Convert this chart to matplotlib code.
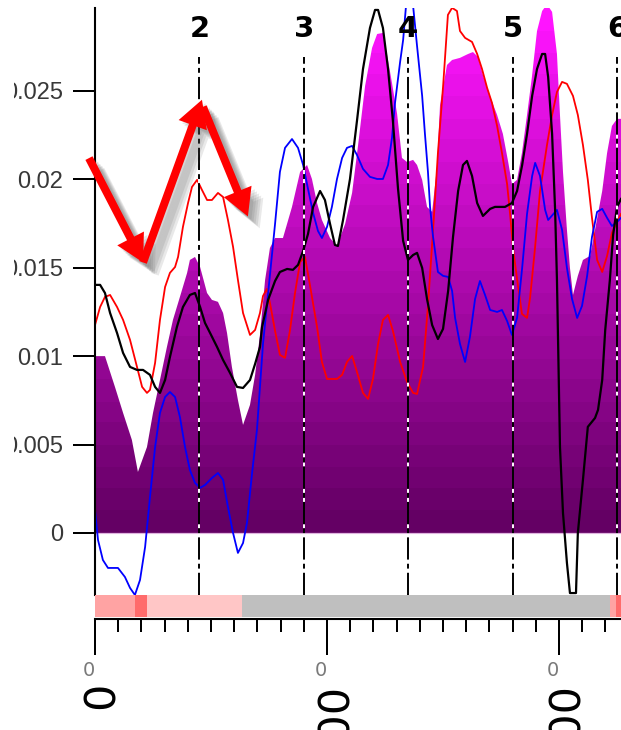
import matplotlib
matplotlib.use("Agg")
import matplotlib.pyplot as plt
import numpy as np
from matplotlib.colors import LinearSegmentedColormap
from matplotlib.patches import FancyArrow
from matplotlib.transforms import Bbox, TransformedBbox, IdentityTransform
import matplotlib.patheffects as pe

plt.rcParams['lines.scale_dashes'] = False

# ---------------- data ----------------
mag_x = [0, 4.3, 8.6, 12.1, 15.9, 18.5, 22.4, 25.0, 28.0, 31.0, 33.6, 36.6, 39.7, 40.9, 43.1, 45.3, 48.3, 50.4, 53.0, 55.2,
         56.9, 59.0, 61.6, 63.8, 66.8, 69.0, 71.1, 73.3, 75.4, 77.6, 81.0, 84.9, 88.4, 91.4, 93.5, 95.7, 97.8, 101.3, 104.3, 107.8,
         110.8, 113.4, 116.4, 119.4, 121.6, 124.1, 125.9, 128.0, 130.2, 132.3, 134.5, 137.1, 138.8, 141.0, 143.1, 145.3, 147.4, 148.7, 151.7, 153.9,
         157.3, 160.8, 162.9, 165.1, 167.2, 170.2, 173.3, 175.8, 178.0, 179.7, 181.9, 184.0, 186.2, 188.3, 190.5, 192.7, 194.8, 197.0, 199.1, 200.4,
         201.7, 203.4, 204.7, 206.0, 208.1, 210.3, 213.4, 215.5, 218.6, 220.7, 222.8, 225.0, 226.7]
mag_y = [0.0100, 0.0100, 0.00826, 0.00679, 0.00526, 0.00345, 0.00486, 0.00679, 0.00865, 0.01052, 0.01205, 0.01335, 0.01471, 0.01544, 0.01561, 0.01504, 0.01357, 0.01318, 0.01307, 0.01244,
         0.01131, 0.00939, 0.00752, 0.00611, 0.00724, 0.00894, 0.0112, 0.0143, 0.01612, 0.01668, 0.01668, 0.01844, 0.02042, 0.02081, 0.02002, 0.01866, 0.0177, 0.01668, 0.01623, 0.01748,
         0.01923, 0.02195, 0.02528, 0.02743, 0.02822, 0.02828, 0.02704, 0.02545, 0.0237, 0.02121, 0.02098, 0.0211, 0.02081, 0.01997, 0.01844, 0.01816, 0.0207, 0.02421, 0.02647, 0.02675,
         0.02687, 0.02709, 0.0272, 0.02692, 0.0259, 0.02472, 0.02364, 0.02257, 0.02104, 0.01974, 0.01997, 0.02149, 0.02364, 0.02579, 0.02839, 0.02952, 0.0299, 0.02947, 0.02709, 0.02364,
         0.02042, 0.01714, 0.01499, 0.01346, 0.01454, 0.01544, 0.01567, 0.01714, 0.01934, 0.02149, 0.02302, 0.02342, 0.02342]

red_x = [0, 2.2, 4.3, 6.5, 9.5, 12.1, 15.1, 18.1, 20.3, 22.4, 23.7, 25.9, 28.0, 30.2, 32.3, 34.5, 35.8, 37.9, 40.1, 41.8,
         44.0, 46.1, 48.3, 50.4, 53.0, 55.2, 57.3, 59.5, 61.6, 63.8, 66.8, 69.0, 71.1, 72.4, 74.1, 75.4, 77.6, 79.7, 81.9, 84.0,
         86.2, 88.4, 90.5, 92.7, 95.7, 97.8, 100.0, 104.3, 106.5, 108.6, 110.8, 112.9, 115.5, 117.7, 119.8, 122.0, 124.1, 126.3, 128.4, 131.5,
         134.5, 137.1, 138.8, 141.4, 143.5, 145.7, 147.8, 150.1, 152.1, 153.9, 156.0, 157.3, 159.5, 162.5, 164.7, 166.8, 169.0, 171.1, 173.3, 175.4,
         177.6, 178.9, 180.2, 181.9, 184.0, 186.2, 187.5, 189.6, 191.8, 194.8, 197.0, 199.1, 201.3, 203.4, 206.0, 208.1, 210.3, 212.4, 214.2, 216.4,
         218.6, 220.7, 222.8, 225.0, 226.7]
red_y = [0.01176, 0.01278, 0.01335, 0.01346, 0.01278, 0.01205, 0.01092, 0.00939, 0.00826, 0.00792, 0.00809, 0.00962, 0.01205, 0.01391, 0.01471, 0.01504, 0.01561, 0.01731, 0.01866, 0.01957,
         0.01997, 0.0194, 0.01883, 0.01883, 0.01923, 0.019, 0.0177, 0.01618, 0.01431, 0.01244, 0.0112, 0.01148, 0.01244, 0.0134, 0.0138, 0.01301, 0.01143, 0.01007, 0.0099, 0.01143,
         0.01357, 0.01533, 0.01561, 0.01397, 0.01165, 0.00967, 0.00871, 0.00871, 0.00894, 0.00967, 0.01001, 0.00911, 0.00792, 0.00758, 0.00871, 0.01069, 0.01205, 0.01233, 0.01143, 0.00967,
         0.00854, 0.00792, 0.00786, 0.00939, 0.01284, 0.01714, 0.02149, 0.0254, 0.0293, 0.0297, 0.02952, 0.02839, 0.028, 0.02777, 0.02709, 0.02624, 0.02517, 0.02432, 0.02302, 0.02149,
         0.01974, 0.01804, 0.01606, 0.01437, 0.01239, 0.01216, 0.01329, 0.01606, 0.01934, 0.02194, 0.02364, 0.02494, 0.02551, 0.0254, 0.02472, 0.02364, 0.02194, 0.01997, 0.01782, 0.01544,
         0.01476, 0.01567, 0.01697, 0.01759, 0.01804]

blue_x = [0, 1.3, 3.4, 5.6, 9.9, 12.9, 15.1, 17.2, 19.4, 21.6, 23.7, 25.9, 28.0, 30.2, 32.3, 34.5, 36.6, 38.8, 40.9, 43.1,
          45.3, 47.4, 50.4, 53.0, 55.2, 57.3, 59.5, 61.6, 63.8, 65.5, 67.7, 69.8, 72.4, 75.4, 77.6, 79.7, 81.9, 84.9, 87.5, 89.7,
          91.8, 94.0, 96.1, 97.8, 100.0, 102.1, 104.3, 106.5, 108.6, 110.8, 112.9, 115.5, 118.5, 121.6, 124.1, 126.3, 128.0, 129.3, 131.5, 132.8,
          134.1, 136.2, 138.8, 141.0, 142.2, 143.5, 144.4, 145.7, 147.8, 150.0, 152.2, 153.9, 155.2, 157.3, 159.5, 161.6, 163.8, 165.9, 168.1, 170.3,
          173.3, 175.4, 177.6, 179.7, 181.9, 184.1, 186.2, 188.4, 189.7, 191.8, 194.0, 195.3, 199.1, 201.3, 203.4, 205.6, 207.8, 209.9, 212.1, 214.2,
          216.4, 218.6, 220.7, 222.8, 225.0, 226.7]
blue_y = [0.0013, -0.0004, -0.00153, -0.00198, -0.00198, -0.00249, -0.00311, -0.00351, -0.00266, -0.00079, 0.00204, 0.00486, 0.00679, 0.00769, 0.00797, 0.00769, 0.00656, 0.00486, 0.00356, 0.00283,
          0.00255, 0.00271, 0.00311, 0.00339, 0.003, 0.00147, 0.0, -0.00113, -0.00057, 0.00057, 0.00339, 0.00583, 0.01069, 0.01459, 0.01748, 0.02042, 0.02178, 0.02228, 0.02178, 0.02081,
          0.01946, 0.0181, 0.01708, 0.01668, 0.01731, 0.01844, 0.02002, 0.02121, 0.02178, 0.02189, 0.02138, 0.02059, 0.02014, 0.02002, 0.02002, 0.02081, 0.02234, 0.02432, 0.02664, 0.02788,
          0.0299, 0.031, 0.02754, 0.02472, 0.02257, 0.02042, 0.01844, 0.01674, 0.01476, 0.01454, 0.01448, 0.01369, 0.01216, 0.01069, 0.00967, 0.01109, 0.01323, 0.01425, 0.01346, 0.01261,
          0.0125, 0.01261, 0.01199, 0.0112, 0.01216, 0.01499, 0.01804, 0.02019, 0.02093, 0.02019, 0.01827, 0.0177, 0.01827, 0.01714, 0.01499, 0.01323, 0.01216, 0.01284, 0.01454, 0.01674,
          0.01816, 0.01833, 0.01782, 0.01736, 0.01759, 0.01782]

black_x = [0, 2.2, 4.3, 6.5, 9.5, 12.1, 15.1, 18.1, 20.7, 23.7, 25.9, 28.0, 30.2, 32.3, 35.3, 37.9, 40.9, 43.1, 45.3, 47.4,
           49.6, 52.6, 55.2, 58.2, 61.2, 63.8, 66.8, 69.0, 71.1, 72.0, 74.6, 77.6, 79.7, 82.8, 85.3, 87.5, 89.7, 91.8, 94.0, 97.0,
           99.1, 101.3, 103.4, 104.7, 106.9, 109.9, 112.9, 115.5, 118.5, 120.7, 122.0, 124.1, 126.3, 128.4, 130.6, 132.8, 134.9, 137.1, 138.8, 141.0,
           143.1, 145.3, 147.8, 150.0, 152.2, 154.3, 156.5, 158.6, 160.3, 162.5, 164.7, 167.2, 170.3, 172.4, 176.7, 179.7, 181.9, 184.1, 186.2, 188.4,
           190.5, 192.7, 194.0, 195.3, 197.0, 198.3, 199.1, 200.4, 201.7, 203.4, 204.7, 207.3, 208.1, 210.3, 212.4, 215.5, 216.8, 218.6, 219.9, 221.9,
           223.3, 225.0, 226.7]
black_y = [0.01403, 0.01403, 0.01357, 0.01244, 0.01131, 0.01018, 0.00939, 0.00922, 0.00922, 0.00894, 0.00826, 0.00792, 0.00865, 0.00995, 0.01165, 0.01278, 0.01346, 0.01357, 0.01278, 0.01188,
           0.01131, 0.01052, 0.00978, 0.00905, 0.00826, 0.0082, 0.00865, 0.00956, 0.01052, 0.01165, 0.01318, 0.01425, 0.01476, 0.01493, 0.01488, 0.01516, 0.01595, 0.01691, 0.01844, 0.01934,
           0.01883, 0.01748, 0.01629, 0.01623, 0.0177, 0.02002, 0.0233, 0.02624, 0.02856, 0.02958, 0.02958, 0.02856, 0.02624, 0.0233, 0.01946, 0.01652, 0.01544, 0.01572, 0.01584, 0.01499,
           0.01323, 0.01176, 0.01097, 0.01154, 0.01369, 0.01674, 0.01934, 0.02081, 0.02104, 0.02019, 0.01866, 0.01793, 0.01833, 0.01844, 0.01844, 0.01866, 0.01934, 0.02081, 0.02257, 0.02472,
           0.02624, 0.02709, 0.02709, 0.02579, 0.02257, 0.01827, 0.01431, 0.00486, 0.00113, -0.0017, -0.0034, -0.0034, 0.0, 0.003, 0.006, 0.0065, 0.00696, 0.00865, 0.01148, 0.01431,
           0.01685, 0.01844, 0.01889]

marker_pos = [45, 90, 135, 180, 225]
marker_labels = ['2', '3', '4', '5', '6']

ytick_vals = [0, 0.005, 0.01, 0.015, 0.02, 0.025]
ytick_labels = ['0', '0.005', '0.01', '0.015', '0.02', '0.025']

bar_starts = [0, 17.2, 22.4, 63.4, 222.0, 224.5]
bar_ends = [17.2, 22.4, 63.4, 222.0, 224.5, 226.7]
bar_colors = ['#ffa3a3', '#ff6b6b', '#ffc6c6', '#bfbfbf', '#ffa3a3', '#ff6b6b']

ruler_major = [0, 100, 200]
ruler_major_labels = ['0', '100', '200']
ruler_minor = list(range(0, 230, 10))

# arrow annotation path (data coords): tail -> tip pairs
arrow_segments = [((-2.6, 0.0212), (20.7, 0.0153)),
                  ((20.7, 0.0153), (46.1, 0.0245)),
                  ((46.5, 0.0241), (65.9, 0.0179))]

X_MAX = 226.7
Y_MIN, Y_MAX = -0.00351, 0.02969

# ---------------- figure ----------------
W, H = 621, 730
fig = plt.figure(figsize=(W / 100, H / 100), dpi=100)
fig.patch.set_facecolor('white')

ax = fig.add_axes([95 / W, (H - 595) / H, (W - 95) / W, 587 / H])
ax.set_xlim(0, X_MAX)
ax.set_ylim(Y_MIN, Y_MAX)
for s in ['top', 'right', 'bottom']:
    ax.spines[s].set_visible(False)
ax.spines['left'].set_linewidth(1.5)
ax.set_xticks([])
ax.set_yticks(ytick_vals)
ax.set_yticklabels(ytick_labels, fontfamily='Liberation Sans')
ax.tick_params(axis='y', length=15.8, width=1.44, pad=7.2, labelsize=17, labelcolor='#383838')

# magenta gradient area
cmap = LinearSegmentedColormap.from_list('mag', ['#640064', '#b00ab0', '#ff14ff'], N=24)
fill = ax.fill_between(mag_x, 0, mag_y, color='none', lw=0)
grad = np.linspace(0, 1, 256).reshape(-1, 1)
im = ax.imshow(grad, extent=[0, X_MAX, 0, Y_MAX], origin='lower', aspect='auto', cmap=cmap, zorder=1,
               interpolation='nearest')
im.set_clip_path(fill.get_paths()[0], transform=ax.transData)
ax.axhline(0, color='#e0b4e0', lw=0.8, zorder=1.5)

ax.plot(red_x, red_y, color='#ff0000', lw=1.3, zorder=2)
ax.plot(blue_x, blue_y, color='#0000ff', lw=1.3, zorder=2.1)
ax.plot(black_x, black_y, color='#000000', lw=1.6, zorder=2.2)

for p, lab in zip(marker_pos, marker_labels):
    ax.axvline(p, ymin=0, ymax=0.9165, color='black', gapcolor='white', lw=1.4,
               linestyle=(0, (16, 3, 3.5, 3)), zorder=4)
    ax.text(p, 0.964, lab, transform=ax.get_xaxis_transform(), ha='center', va='center',
            fontsize=21, fontweight='bold', family='DejaVu Sans', clip_on=False, zorder=6)

# clip y tick labels at left like original crop
clipbox = TransformedBbox(Bbox([[14 / W, 0], [1, 1]]), fig.transFigure)
for lbl in ax.get_yticklabels():
    lbl.set_clip_box(clipbox)
    lbl.set_clip_on(True)

# colour bar + ruler
axb = fig.add_axes([95 / W, (H - 619) / H, (W - 95) / W, 24 / H])
axb.set_xlim(0, X_MAX)
axb.set_ylim(0, 1)
for s0, s1, c in zip(bar_starts, bar_ends, bar_colors):
    axb.axvspan(s0, s1, ymin=0.08, ymax=1, color=c, lw=0)
for s in ['top', 'right', 'left']:
    axb.spines[s].set_visible(False)
axb.spines['bottom'].set_linewidth(1.5)
axb.set_yticks([])
axb.set_xticks(ruler_major)
axb.set_xticks(ruler_minor, minor=True)
axb.set_xticklabels([])
axb.tick_params(axis='x', which='major', length=26, width=1.44, direction='out')
axb.tick_params(axis='x', which='minor', length=9.4, width=1.44, direction='out')

for t, lab in zip(ruler_major, ruler_major_labels):
    axb.annotate('0', xy=(t, H - 670), xycoords=('data', 'figure pixels'), xytext=(-6, 0),
                 textcoords='offset pixels', ha='center', va='center', fontsize=14, color='#7a7a7a',
                 annotation_clip=False)
    axb.annotate(lab, xy=(t, H - 682), xycoords=('data', 'figure pixels'), xytext=(7, 0),
                 textcoords='offset pixels', ha='center', va='top', rotation=90, fontsize=31,
                 family='DejaVu Sans', annotation_clip=False)

# red arrows with drop shadow
fig.canvas.draw()
shadow = [pe.SimplePatchShadow(offset=(o, -o), shadow_rgbFace='#555555', alpha=0.13) for o in (2.5, 4, 5.5, 7, 8.5)]
for (p0, p1) in arrow_segments:
    x0, y0 = ax.transData.transform(p0)
    x1, y1 = ax.transData.transform(p1)
    arr = FancyArrow(x0, y0, x1 - x0, y1 - y0, width=8, head_width=30, head_length=27,
                     length_includes_head=True, color='#ff0000', lw=0, transform=IdentityTransform(),
                     zorder=10)
    arr.set_path_effects(shadow + [pe.Normal()])
    fig.add_artist(arr)

fig.savefig('out.png', dpi=100, facecolor='white')
